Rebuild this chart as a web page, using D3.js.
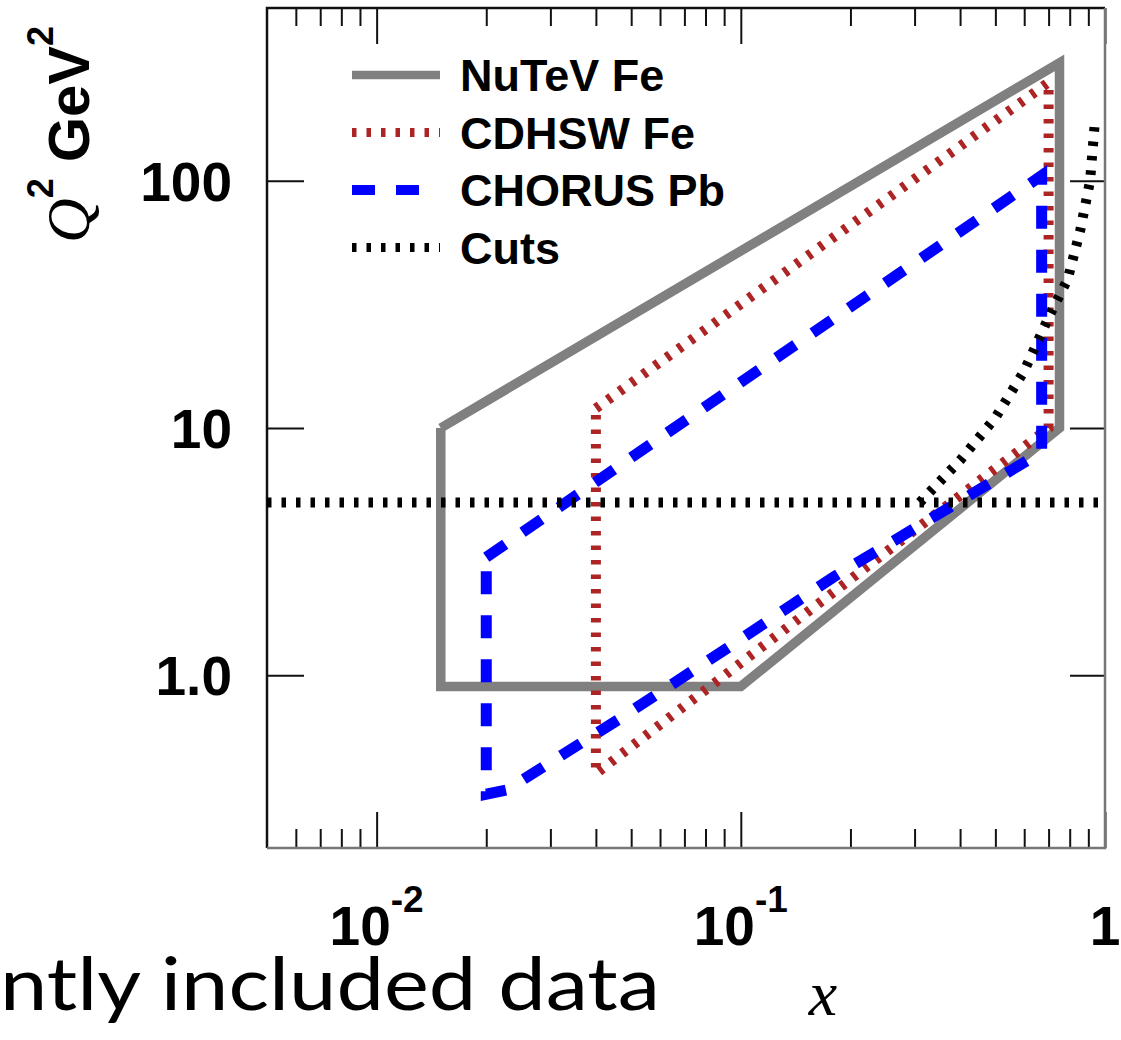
<!DOCTYPE html>
<html>
<head>
<meta charset="utf-8">
<script src="https://cdn.jsdelivr.net/npm/d3@7"></script>
<style>
  body { margin: 0; background: #fff; }
  svg { display: block; }
</style>
</head>
<body>
<svg id="chart"></svg>
<script>
// kinematic coverage of the neutrino data sets (x, Q^2 in GeV^2)
var nutevX  = [0.015, 0.75, 0.75, 0.1, 0.015, 0.015];
var nutevQ2 = [10, 300, 10, 0.9, 0.9, 10];

var cdhswX  = [0.04, 0.7, 0.7, 0.04, 0.04];
var cdhswQ2 = [12, 250, 10, 0.4, 12];

var chorusX  = [0.02, 0.67, 0.67, 0.35, 0.18, 0.092, 0.046, 0.0227, 0.02, 0.02];
var chorusQ2 = [3, 105, 8, 4.5, 2.5, 1.29, 0.66, 0.343, 0.33, 3];

// cuts: Q2 > 5 and the W2 cut
var q2CutX  = [0.005, 1];
var q2CutQ2 = [5, 5];
var wCutX  = [0.31, 0.4, 0.5, 0.6, 0.7, 0.79, 0.855, 0.91, 0.94];
var wCutQ2 = [5, 7.4, 11, 17, 28, 40, 63, 100, 180];

var legendNames = ["NuTeV Fe", "CDHSW Fe", "CHORUS Pb", "Cuts"];

var xMajorTicks = [0.01, 0.1, 1];
var xTickBase = ["10", "10", "1"];
var xTickExp  = ["-2", "-1", ""];
var xMinorTicks = [0.006, 0.007, 0.008, 0.009,
                   0.02, 0.03, 0.04, 0.05, 0.06, 0.07, 0.08, 0.09,
                   0.2, 0.3, 0.4, 0.5, 0.6, 0.7, 0.8, 0.9];
var yMajorTicks = [1, 10, 100];
var yTickLabels = ["1.0", "10", "100"];

(function () {

    var W = 1121, H = 1040;
    var pl = 267, pr = 1105, pt = 8, pb = 848;
    var sans = "'Liberation Sans', Arial, Helvetica, sans-serif";
    var serif = "'Liberation Serif', 'Times New Roman', serif";

    var svg = d3.select("#chart").attr("width", W).attr("height", H);

    var x = d3.scaleLog().domain([0.005, 1]).range([pl, pr]);
    var y = d3.scaleLog().domain([0.2, 500]).range([pb, pt]);

    function pts(xs, ys) {
        return xs.map(function (d, i) { return [d, ys[i]]; });
    }

    var line = d3.line()
        .x(function (d) { return x(d[0]); })
        .y(function (d) { return y(d[1]); });

    var styles = [
        { color: "#808080", width: 9.5, dash: null },
        { color: "#ad2424", width: 10, dash: "4.5,10" },
        { color: "#0000ff", width: 11, dash: "23,21" },
        { color: "#000000", width: 10, dash: "4.5,10" }
    ];

    // ticks (d3 axes), labels drawn below
    function noDomain(g) { g.select(".domain").remove(); }

    svg.append("g").attr("transform", "translate(0," + pb + ")")
        .call(d3.axisBottom(x).tickValues(xMajorTicks).tickSize(-36).tickFormat(""))
        .call(noDomain);
    svg.append("g").attr("transform", "translate(0," + pb + ")")
        .call(d3.axisBottom(x).tickValues(xMinorTicks).tickSize(-19).tickFormat(""))
        .call(noDomain);
    svg.append("g").attr("transform", "translate(0," + pt + ")")
        .call(d3.axisTop(x).tickValues(xMajorTicks).tickSize(-36).tickFormat(""))
        .call(noDomain);
    svg.append("g").attr("transform", "translate(0," + pt + ")")
        .call(d3.axisTop(x).tickValues(xMinorTicks).tickSize(-18).tickFormat(""))
        .call(noDomain);
    svg.append("g").attr("transform", "translate(" + pl + ",0)")
        .call(d3.axisLeft(y).tickValues(yMajorTicks).tickSize(-37).tickFormat(""))
        .call(noDomain);
    svg.append("g").attr("transform", "translate(" + pr + ",0)")
        .call(d3.axisRight(y).tickValues(yMajorTicks).tickSize(-35).tickFormat(""))
        .call(noDomain);

    svg.selectAll(".tick line").attr("stroke", "#111").attr("stroke-width", 2);

    // frame
    svg.append("path")
        .attr("d", "M" + pl + "," + pb + "V" + pt + "H" + pr)
        .attr("fill", "none").attr("stroke", "#111").attr("stroke-width", 2.5);
    svg.append("path")
        .attr("d", "M" + pl + "," + pb + "H" + pr + "V" + pt)
        .attr("fill", "none").attr("stroke", "#777").attr("stroke-width", 2.5);

    // curves
    var plot = svg.append("g");
    var series = [pts(nutevX, nutevQ2), pts(cdhswX, cdhswQ2), pts(chorusX, chorusQ2)];
    series.forEach(function (s, i) {
        plot.append("path")
            .datum(s)
            .attr("d", line)
            .attr("fill", "none")
            .attr("stroke", styles[i].color)
            .attr("stroke-width", styles[i].width)
            .attr("stroke-dasharray", styles[i].dash)
            .attr("stroke-linejoin", "miter");
    });
    [pts(q2CutX, q2CutQ2), pts(wCutX, wCutQ2)].forEach(function (s) {
        plot.append("path")
            .datum(s)
            .attr("d", line)
            .attr("fill", "none")
            .attr("stroke", styles[3].color)
            .attr("stroke-width", styles[3].width)
            .attr("stroke-dasharray", styles[3].dash);
    });

    // legend
    var legend = svg.append("g");
    legendNames.forEach(function (name, i) {
        var ly = 75 + i * 57.5;
        legend.append("line")
            .attr("x1", 352).attr("x2", 440).attr("y1", ly).attr("y2", ly)
            .attr("stroke", styles[i].color)
            .attr("stroke-width", styles[i].width - 1)
            .attr("stroke-dasharray", styles[i].dash);
        legend.append("text")
            .attr("x", 460).attr("y", ly + 16)
            .attr("font-family", sans).attr("font-weight", "bold")
            .attr("font-size", 45)
            .text(name);
    });

    // x tick labels
    xMajorTicks.forEach(function (v, i) {
        var t = svg.append("text")
            .attr("x", x(v)).attr("y", 945)
            .attr("text-anchor", "middle")
            .attr("font-family", sans).attr("font-weight", "bold")
            .attr("font-size", 55);
        t.append("tspan").text(xTickBase[i]);
        if (xTickExp[i]) {
            t.append("tspan").attr("dy", -33).attr("font-size", 37).text(xTickExp[i]);
        }
    });

    // y tick labels
    yMajorTicks.forEach(function (v, i) {
        svg.append("text")
            .attr("x", 232).attr("y", y(v) + 20)
            .attr("text-anchor", "end")
            .attr("font-family", sans).attr("font-weight", "bold")
            .attr("font-size", 55)
            .text(yTickLabels[i]);
    });

    // axis titles
    var yt = svg.append("text")
        .attr("transform", "translate(89,243) rotate(-90)")
        .attr("font-family", sans).attr("font-weight", "bold")
        .attr("font-size", 58);
    yt.append("tspan").attr("font-family", serif).attr("font-style", "italic")
        .attr("font-weight", "normal").attr("font-size", 62).text("Q");
    yt.append("tspan").attr("dy", -36).attr("font-size", 36).text("2");
    yt.append("tspan").attr("dy", 36).text("\u00a0GeV");
    yt.append("tspan").attr("dy", -36).attr("font-size", 36).text("2");

    svg.append("text")
        .attr("x", 823).attr("y", 1015)
        .attr("text-anchor", "middle")
        .attr("font-family", serif).attr("font-style", "italic")
        .attr("font-size", 64)
        .text("x");

    // slide text cut by the crop
    svg.append("text")
        .attr("x", 0).attr("y", 1010)
        .attr("font-family", "Lato, 'Open Sans', sans-serif")
        .attr("font-size", 74)
        .attr("textLength", 660)
        .attr("lengthAdjust", "spacingAndGlyphs")
        .text("ntly included data");

})();
</script>
</body>
</html>
